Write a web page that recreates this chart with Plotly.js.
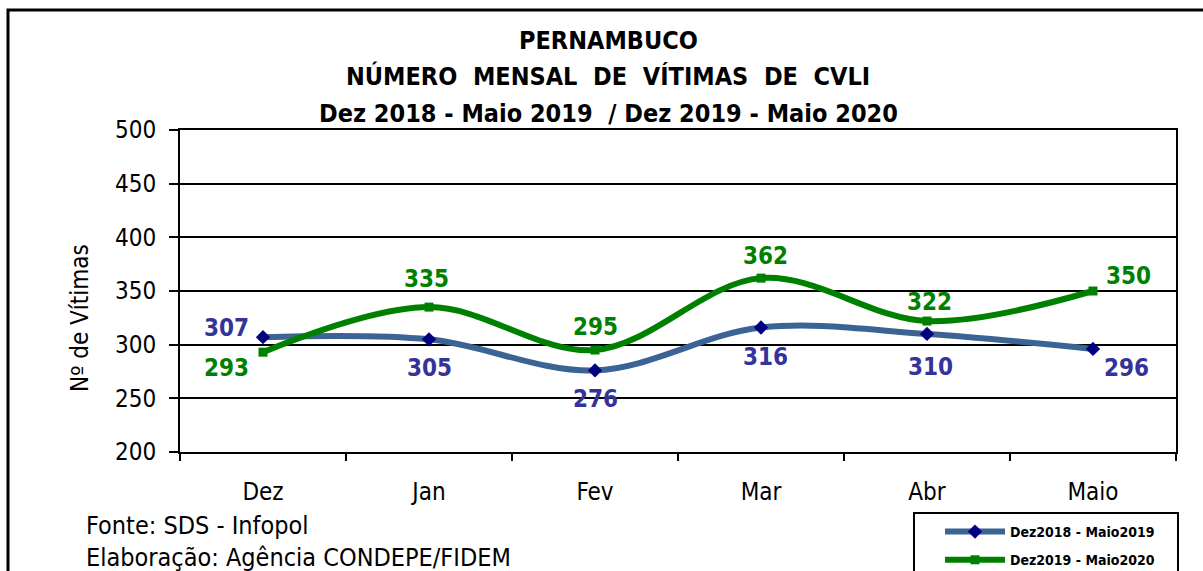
<!DOCTYPE html>
<html>
<head>
<meta charset="utf-8">
<script src="https://cdn.plot.ly/plotly-3.0.1.min.js"></script>
<style>html,body{margin:0;padding:0;background:#fff;}#chart{width:1203px;height:571px;}</style>
</head>
<body>
<div id="chart"></div>
<script>
const months = ["Dez", "Jan", "Fev", "Mar", "Abr", "Maio"];
const serie2019 = [307, 305, 276, 316, 310, 296];
const serie2020 = [293, 335, 295, 362, 322, 350];
const name2019 = "Dez2018 - Maio2019";
const name2020 = "Dez2019 - Maio2020";
const yTicks = [200, 250, 300, 350, 400, 450, 500];
const titleLines = ["PERNAMBUCO", "NÚMERO  MENSAL  DE  VÍTIMAS  DE  CVLI", "Dez 2018 - Maio 2019  / Dez 2019 - Maio 2020"];
const footerLines = ["Fonte: SDS - Infopol", "Elaboração: Agência CONDEPE/FIDEM"];

// label offsets in pixels (layout only)
const off2019x = [-37, 0, 0, 4, 3, 33];
const off2019y = [9, -29, -29, -30, -33, -19];
const off2020x = [-37, -3, 0, 4, 2, 35];
const off2020y = [-16, 28, 23, 22, 19, 15];

const FONT = "'DejaVu Sans Condensed', 'Liberation Sans Narrow', sans-serif";
const BLUE_LINE = "#3B6495", BLUE_MARK = "#000080", BLUE_TEXT = "#333399", GREEN = "#008000";

const traces = [
  {
    x: months, y: serie2019, name: name2019, type: "scatter", mode: "lines+markers",
    legendgroup: "a",
    line: {color: BLUE_LINE, width: 6, shape: "spline", smoothing: 1},
    marker: {symbol: "diamond", color: BLUE_MARK, size: 11}
  },
  {
    x: months, y: serie2020, name: name2020, type: "scatter", mode: "lines+markers",
    legendgroup: "b",
    line: {color: GREEN, width: 6, shape: "spline", smoothing: 1},
    marker: {symbol: "square", color: GREEN, size: 9}
  }
];

const annotations = [];
const titleY = [40, 76, 114];
titleLines.forEach((t, i) => annotations.push({
  xref: "paper", yref: "paper", x: (608 - 180) / 996, y: 1 + (130 - titleY[i]) / 322,
  xanchor: "center", yanchor: "middle", showarrow: false,
  text: "<b>" + t + "</b>", font: {family: FONT, size: 25, color: "#000"}
}));
const footY = [525, 557];
footerLines.forEach((t, i) => annotations.push({
  xref: "paper", yref: "paper", x: (84 - 180) / 996, y: (452 - footY[i]) / 322,
  xanchor: "left", yanchor: "middle", showarrow: false,
  text: t, font: {family: FONT, size: 25, color: "#000"}
}));
annotations.push({
  xref: "paper", yref: "paper", x: (80 - 180) / 996, y: 1 - (318 - 130) / 322,
  xanchor: "center", yanchor: "middle", showarrow: false, textangle: -90,
  text: "Nº de Vítimas", font: {family: FONT, size: 24, color: "#000"}
});
serie2019.forEach((v, i) => annotations.push({
  x: months[i], y: v, xref: "x", yref: "y", showarrow: false,
  xshift: off2019x[i], yshift: off2019y[i], text: "<b>" + v + "</b>",
  font: {family: FONT, size: 24, color: BLUE_TEXT}
}));
serie2020.forEach((v, i) => annotations.push({
  x: months[i], y: v, xref: "x", yref: "y", showarrow: false,
  xshift: off2020x[i], yshift: off2020y[i], text: "<b>" + v + "</b>",
  font: {family: FONT, size: 24, color: GREEN}
}));

const layout = {
  width: 1203, height: 571,
  margin: {l: 180, r: 27, t: 130, b: 119, autoexpand: false},
  paper_bgcolor: "#fff", plot_bgcolor: "#fff",
  font: {family: FONT, color: "#000", size: 22},
  showlegend: true,
  legend: {
    x: (940 - 180) / 996, y: (452 - 516) / 322, xanchor: "left", yanchor: "top",
    borderwidth: 0, bgcolor: "rgba(0,0,0,0)",
    font: {family: FONT, size: 14, weight: "bold"},
    itemwidth: 60, traceorder: "grouped", tracegroupgap: 7
  },
  xaxis: {
    type: "category", range: [-0.5, 5.5],
    tickson: "boundaries", ticks: "outside", ticklen: 7, tickwidth: 2, tickcolor: "#000",
    showline: true, linecolor: "#000", linewidth: 2, mirror: true,
    showgrid: false, zeroline: false,
    tickfont: {family: FONT, size: 24}, ticklabelstandoff: 17
  },
  yaxis: {
    range: [200, 500], tickvals: yTicks,
    ticks: "outside", ticklen: 9, tickwidth: 2, tickcolor: "#000",
    showline: true, linecolor: "#000", linewidth: 2, mirror: true,
    showgrid: true, gridcolor: "#000", gridwidth: 2, zeroline: false,
    tickfont: {family: FONT, size: 24}, ticklabelstandoff: 8
  },
  annotations: annotations,
  shapes: [
    {type: "rect", xref: "paper", yref: "paper", x0: -0.1727, y0: -0.6, x1: 1.2, y1: 1.3727,
     line: {color: "#000", width: 3}, fillcolor: "rgba(0,0,0,0)", layer: "below"},
    {type: "rect", xref: "paper", yref: "paper", x0: (914 - 180) / 996, y0: -0.6, x1: (1178 - 180) / 996, y1: (452 - 513) / 322,
     line: {color: "#000", width: 2}, fillcolor: "#fff", layer: "below"}
  ]
};

Plotly.newPlot("chart", traces, layout, {displayModeBar: false, staticPlot: true});
</script>
</body>
</html>
